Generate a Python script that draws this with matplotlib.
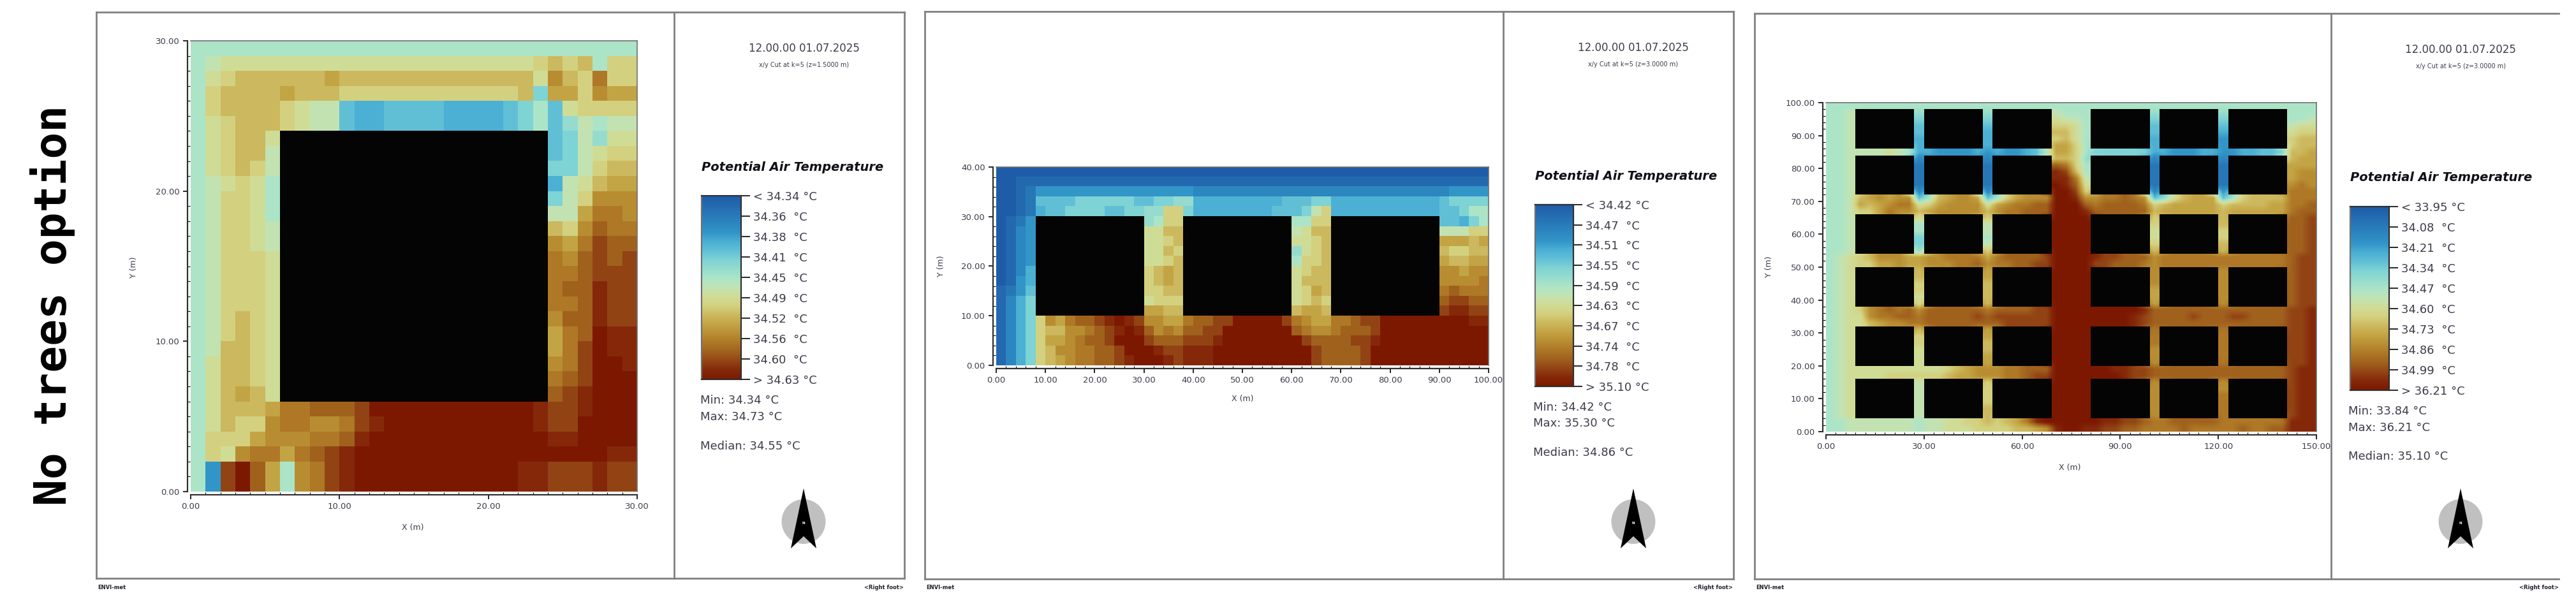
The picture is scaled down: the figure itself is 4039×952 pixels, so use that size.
import numpy as np
import matplotlib
matplotlib.use('Agg')
import matplotlib.pyplot as plt
from matplotlib.colors import LinearSegmentedColormap, ListedColormap
from matplotlib.patches import Ellipse, Polygon
from matplotlib.ticker import MultipleLocator, FormatStrFormatter

W, H = 4039, 952

# levels on the legend bar: 0 (top of bar, blue) to k=20 (bottom, dark red), # = building
grid_a = [
    "9999999999 9999999999 9999999999",
    "9abbbbbbbb bbbbbbbbbb bbbcdcd9cc",
    "9bcdddddde dddddddddd dddbfdcgcc",
    "9cddddeddd cccccccccc ccd7eecfee",
    "9cddddcbaa 6556666555 56796bcccc",
    "9bcdddcbaa 6556666555 56796 8a9aa",
    "9bcddb ################## 67a8bb",
    "9bcdda ################## 67abcc",
    "9bcdca ################## 77acdd",
    "9abcb9 ################## 5abdee",
    "9accb9 ################## 7acfff",
    "9accb9 ################## aaeggf",
    "9accba ################## dcfhgg",
    "9accba ################## fegihh",
    "9acccb ################## gfhihi",
    "9acccb ################## gghiii",
    "9acccb ################## ghhjii",
    "9acccb ################## gghjii",
    "9acdcb ################## fhhjii",
    "9acdcb ################## eghkjj",
    "9addcb ################## egikjj",
    "9bddcb ################## fgikkj",
    "9bddcb ################## ghikkk",
    "9bdedb ################## hijkkk",
    "9bdddegghh hikkkkkkkk kkkjiijkkk",
    "9bdccfggff gijkkkkkkk kkkjiikkkk",
    "9cccefffgg hjkkkkkkkk kkkkjjkkkk",
    "9cbfggeghi jkkkkkkkkk kkkkkkkkjj",
    "94ikhe9fgi jkkkkkkkkk kkjjiiijii",
    "94ikhe9fgi jkkkkkkkkk kkjjiiijii",
]
grid_b = [
    "0000000000 0000000000 0000000000 0000000000 0000000000",
    "0011111111 1111111111 1111111111 1111111111 1111111111",
    "0012444444 4444444444 3333333333 3333333333 3333334444",
    "0012 6666777777667788 555555555666 77 55555555555 67777",
    "0012 5667777667788cc7 555555556667 ac 55555555555 66799",
    "0124 ########### 89cc ########### 99cc ########### 66579",
    "0134 ########### bbdd ########### abdd ########### aaacc",
    "0134 ########### bbcd ########### bbcd ########### eeede",
    "0134 ########### bbdc ########### 8bcd ########### dccdd",
    "0134 ########### bbcd ########### 9ccd ########### eddee",
    "0135 ########### cded ########### bcdd ########### ffeff",
    "0145 ########### cded ########### bddd ########### ffffg",
    "1246 ########### ccdd ########### bced ########### ghggg",
    "1357 ########### bccc ########### bcdc ########### hiihh",
    "1357 ########### eedd ########### deed ########### ijjii",
    "1357cfeghh ijkjiffeeg hhiikkkkki gfeegghiik kkkkkkkkjj",
    "1357cddffg hijkjhfgfh hiikkkkkkk hgffghhhik kkkkkkkkkk",
    "1357ceefgh hikkkihhhi iijkkkkkkk kihhhhiijk kkkkkkkkkk",
    "1357cdffgg hhikkkjiij jjkkkkkkkk kkihhhhikk kkkkkkkkkk",
    "1357cdefgg hhijkkkjij jjkkkkkkkk kkihhhhikk kkkkkkkkkk",
]
grid_c = [
    "999 999999 9 999999 9 999999 9999 999999 9 999999 9 999999 999",
    "99a ###### 8 ###### 8 ###### a999 ###### 8 ###### 8 ###### 999",
    "99a ###### 7 ###### 7 ###### baa9 ###### 7 ###### 7 ###### 99a",
    "99a ###### 6 ###### 6 ###### ccb9 ###### 6 ###### 6 ###### abb",
    "99a ###### 6 ###### 5 ###### ddb9 ###### 6 ###### 5 ###### bcc",
    "99a ###### 5 ###### 5 ###### cdb9 ###### 5 ###### 4 ###### cdd",
    "99a ###### 5 ###### 5 ###### eec9 ###### 5 ###### 4 ###### cdd",
    "99a aaaba9 5 544445 4 544569 eec9 777777 5 544455 4 455667 dde",
    "99a ###### 3 ###### 3 ###### ddc8 ###### 3 ###### 3 ###### dee",
    "99a ###### 2 ###### 2 ###### hgc9 ###### 2 ###### 2 ###### eee",
    "99a ###### 2 ###### 2 ###### jid9 ###### 2 ###### 2 ###### eff",
    "99a ###### 2 ###### 2 ###### jjga ###### 2 ###### 2 ###### eff",
    "99a ###### 2 ###### 2 ###### kjhb ###### 2 ###### 2 ###### fgf",
    "99a ###### 3 ###### 3 ###### kkic ###### 3 ###### 4 ###### ggg",
    "99a defeff 6 9deffe 6 9cefff kkjf fgghgf 6 8bdeee 6 9cdddd ggg",
    "99a edefgg b ceffff b efgghh kkkh ghhhhg c deeeee c ddddee ggh",
    "99a ccegff d efffff d fgghhh kkkj hhhhhh d eeeeee d eeeeee ghh",
    "99a ###### b ###### c ###### kkkk ###### c ###### d ###### hhi",
    "99a ###### 9 ###### a ###### kkkk ###### c ###### d ###### hhi",
    "99a ###### 9 ###### a ###### kkkk ###### b ###### c ###### hhi",
    "99a ###### 7 ###### 9 ###### kkkk ###### b ###### c ###### hhi",
    "99a ###### 7 ###### a ###### kkkk ###### c ###### d ###### hhi",
    "99a ###### 8 ###### c ###### kkkk ###### d ###### d ###### hhi",
    "9ab cdfffe e ffgggg e ghhhhi kkkk jiihhh f gggggg g gggggg hii",
    "9ab cceefe e fffggh f gghhii kkkk iihhhg f gggggg g gggggg hii",
    "9ab ###### d ###### e ###### kkkk ###### f ###### f ###### hii",
    "9ab ###### d ###### e ###### kkkk ###### f ###### f ###### hii",
    "9ab ###### c ###### d ###### kkkk ###### f ###### f ###### hii",
    "9ab ###### c ###### d ###### kkkk ###### e ###### f ###### hii",
    "9ab ###### b ###### d ###### kkkk ###### e ###### f ###### hii",
    "9ab ###### b ###### d ###### kkkk ###### e ###### f ###### hii",
    "9ab cfghgh f hhhhhh g hhhhii kkkk kkkkkj h hhhhhh h hhhhhh iij",
    "9ab bfgghh g hhhhhi h iiiiii kkkk kkkkji h hhhihh h iihhhh iij",
    "9ab bdeffg g hhhhhh h hiiiii kkkk kkkkji h hhhhhh h hhhhhh iij",
    "9ab ###### d ###### e ###### kkkk ###### g ###### g ###### iij",
    "9ab ###### c ###### e ###### kkkk ###### g ###### g ###### iij",
    "9ab ###### c ###### d ###### kkkk ###### g ###### g ###### iij",
    "9ab ###### b ###### d ###### kkkk ###### f ###### g ###### iij",
    "9ab ###### b ###### e ###### kkkk ###### f ###### g ###### iij",
    "9ab ###### b ###### e ###### kkkk ###### f ###### g ###### iij",
    "9ab bbbbbb b bbcdef f fgghhh kkkk kkjjii h hhhhhh h hhhhhh ijj",
    "9ab bbbccc c ccdeef f fgghii kkkk kkkjii h hhhhhh h hhhhhh ijj",
    "9ab ###### a ###### c ###### kkkk ###### f ###### f ###### ijj",
    "9ab ###### a ###### c ###### kkkk ###### f ###### f ###### ijj",
    "9ab ###### a ###### c ###### kkkk ###### f ###### g ###### ijj",
    "9ab ###### a ###### c ###### kkkk ###### f ###### g ###### ijj",
    "9ab ###### a ###### d ###### kkkk ###### f ###### g ###### ijj",
    "9ab ###### a ###### d ###### kkkk ###### f ###### g ###### ijj",
    "99a aaaaaa 9 aabbcc d cdegjk kkkk kjjiih g ghhhhh g gggggg jjj",
    "99a aaaaaa 9 aabbbc c ccddef jkkj jiihhg g gghggg g ghgghh jjj",
]

legend_a = ["< 34.34 °C", "34.36  °C", "34.38  °C", "34.41  °C", "34.45  °C",
            "34.49  °C", "34.52  °C", "34.56  °C", "34.60  °C", "> 34.63 °C"]
legend_b = ["< 34.42 °C", "34.47  °C", "34.51  °C", "34.55  °C", "34.59  °C",
            "34.63  °C", "34.67  °C", "34.74  °C", "34.78  °C", "> 35.10 °C"]
legend_c = ["< 33.95 °C", "34.08  °C", "34.21  °C", "34.34  °C", "34.47  °C",
            "34.60  °C", "34.73  °C", "34.86  °C", "34.99  °C", "> 36.21 °C"]
stats_a = ["Min: 34.34 °C", "Max: 34.73 °C", "Median: 34.55 °C"]
stats_b = ["Min: 34.42 °C", "Max: 35.30 °C", "Median: 34.86 °C"]
stats_c = ["Min: 33.84 °C", "Max: 36.21 °C", "Median: 35.10 °C"]

# colours of the legend bar, read from top to bottom
bar_colors = ['#1f5ca8', '#2878b8', '#3295c8', '#4bb0d4', '#62c0d6', '#7fd4d4', '#ace5c8',
              '#c2e3b4', '#d0dc96', '#d3d17f', '#cdb95f', '#c4a546', '#b98f33', '#ae7827',
              '#a1621e', '#934515', '#85290a', '#7d1800']
bar_pos = [0, .1, .2, .25, .3, .35, .45, .5, .55, .6, .65, .7, .75, .8, .85, .9, .95, 1]
cmap = LinearSegmentedColormap.from_list('envi', list(zip(bar_pos, bar_colors)))

TXT = '#3c3c4c'
LINE = '#808080'


def parse(rows):
    out = []
    for r in rows:
        r = r.replace(' ', '')
        out.append([np.nan if c == '#' else int(c, 21) for c in r])
    return np.array(out, dtype=float)


def fill_under_buildings(arr):
    # only so the smoothing has something to work with, the buildings cover it again
    arr = arr.copy()
    while np.isnan(arr).any():
        p = np.pad(arr, 1, constant_values=np.nan)
        near = np.stack([p[:-2, 1:-1], p[2:, 1:-1], p[1:-1, :-2], p[1:-1, 2:]])
        ok = ~np.isnan(near)
        total = np.where(ok, near, 0).sum(axis=0)
        count = ok.sum(axis=0)
        todo = np.isnan(arr) & (count > 0)
        arr[todo] = total[todo] / count[todo]
    return arr


def px_axes(fig, x0, y0, x1, y1):
    return fig.add_axes([x0 / W, 1 - y1 / H, (x1 - x0) / W, (y1 - y0) / H])


def draw_map(fig, box, grid, xmax, ymax, xstep, ystep, xminor, yminor, xlab, ylab, smooth=False):
    ax = px_axes(fig, *box)
    arr = parse(grid)
    ext = [0, xmax, 0, ymax]
    ax.imshow(fill_under_buildings(arr), cmap=cmap, vmin=0, vmax=20, extent=ext, aspect='auto',
              interpolation='bilinear' if smooth else 'nearest', origin='upper')
    ax.imshow(np.ma.masked_where(~np.isnan(arr), np.ones(arr.shape)), cmap=ListedColormap(['#040404']),
              extent=ext, aspect='auto', interpolation='nearest', origin='upper')
    ax.set_xlim(0, xmax)
    ax.set_ylim(0, ymax)
    ax.xaxis.set_major_locator(MultipleLocator(xstep))
    ax.yaxis.set_major_locator(MultipleLocator(ystep))
    ax.xaxis.set_minor_locator(MultipleLocator(xminor))
    ax.yaxis.set_minor_locator(MultipleLocator(yminor))
    ax.xaxis.set_major_formatter(FormatStrFormatter('%.2f'))
    ax.yaxis.set_major_formatter(FormatStrFormatter('%.2f'))
    ax.tick_params(which='major', length=5, width=1.2, labelsize=9.5, labelcolor=TXT, pad=4)
    ax.tick_params(which='minor', length=3, width=0.8, direction='in')
    for s in ['left', 'bottom']:
        ax.spines[s].set_position(('outward', 3.6))
        ax.spines[s].set_linewidth(1.6)
        ax.spines[s].set_color('#303030')
    for s in ['top', 'right']:
        ax.spines[s].set_color('#707070')
        ax.spines[s].set_linewidth(1.2)
    bg.text(xlab[0], xlab[1], 'X (m)', fontsize=9, color=TXT, ha='center', va='center')
    bg.text(ylab[0], ylab[1], 'Y (m)', fontsize=9, color=TXT, ha='center', va='center', rotation=90)
    return ax


def draw_legend(fig, x, y_title, bar, labels, stats, stat_y, stat_x, date_x, date_y, sub, north_x):
    bg.text(x, y_title, 'Potential Air Temperature', fontsize=14, fontweight='bold',
            fontstyle='italic', color='#101018', ha='left', va='center')
    cax = px_axes(fig, *bar)
    grad = np.linspace(0, 1, 256).reshape(-1, 1)
    cax.imshow(grad, cmap=cmap, aspect='auto', extent=[0, 1, 0, 9], origin='upper')
    cax.set_xticks([])
    cax.yaxis.tick_right()
    cax.set_yticks(range(10))
    cax.set_yticklabels(labels[::-1])
    cax.tick_params(length=10, width=1.2, labelsize=13, labelcolor=TXT, pad=4)
    for s in cax.spines.values():
        s.set_linewidth(1.6)
        s.set_color('#303030')
    cax.spines['left'].set_color('#707070')
    for t, yy in zip(stats, stat_y):
        bg.text(stat_x, yy, t, fontsize=13, color=TXT, ha='left', va='center')
    bg.text(date_x, date_y, '12.00.00 01.07.2025', fontsize=12, color=TXT, ha='center', va='center')
    bg.text(date_x, date_y + 26, sub, fontsize=7, color=TXT, ha='center', va='center')
    bg.add_patch(Ellipse((north_x, 818), 69, 70, color='#c0c0c0', lw=0))
    bg.add_patch(Polygon([(north_x, 766), (north_x + 20, 860), (north_x, 841), (north_x - 20, 860)],
                         color='black', lw=0))
    bg.text(north_x, 821, 'N', fontsize=4, color='white', fontweight='bold', ha='center', va='center')


def draw_frame(left, top, bottom, divider, right, foot_right, closed=True):
    xs = [left, right] if closed else [left, foot_right]
    bg.plot(xs, [top, top], color=LINE, lw=2)
    bg.plot(xs, [bottom, bottom], color=LINE, lw=2)
    bg.plot([left, left], [top, bottom], color=LINE, lw=2)
    bg.plot([divider, divider], [top, bottom], color=LINE, lw=2)
    if closed:
        bg.plot([right, right], [top, bottom], color=LINE, lw=2)
    bg.text(left + 2, 921, 'ENVI-met', fontsize=6, fontweight='bold', color='#202030', ha='left', va='center')
    bg.text(foot_right, 921, '<Right foot>', fontsize=6, fontweight='bold', color='#202030', ha='right', va='center')


fig = plt.figure(figsize=(W / 100, H / 100), dpi=100, facecolor='white')
bg = fig.add_axes([0, 0, 1, 1])
bg.set_xlim(0, W)
bg.set_ylim(H, 0)
bg.axis('off')

bg.text(104, 479, 'No trees option', rotation=90, rotation_mode='anchor', fontsize=50, fontweight='bold',
        family='DejaVu Sans Mono', color='black', ha='center', va='baseline')

draw_frame(151, 19, 907, 1057, 1418, 1417)
draw_map(fig, (299, 64, 999, 771), grid_a, 30, 30, 10, 10, 1, 1, (647, 827), (210, 419))
draw_legend(fig, 1100, 262, (1100, 307, 1162, 595), legend_a, stats_a, [628, 654, 700], 1098,
            1261, 76, 'x/y Cut at k=5 (z=1.5000 m)', 1260)

draw_frame(1450, 18, 908, 2357, 2718, 2717)
draw_map(fig, (1562, 262, 2334, 573), grid_b, 100, 40, 10, 10, 2, 2, (1948, 626), (1475, 417))
draw_legend(fig, 2407, 276, (2407, 321, 2467, 606), legend_b, stats_b, [639, 664, 710], 2404,
            2561, 75, 'x/y Cut at k=5 (z=3.0000 m)', 2561)

draw_frame(2751, 21, 908, 3655, 4013, 4012, closed=False)
draw_map(fig, (2863, 161, 3632, 677), grid_c, 150, 100, 30, 10, 3, 2, (3245, 734), (2774, 418), smooth=True)
draw_legend(fig, 3685, 279, (3685, 324, 3746, 612), legend_c, stats_c, [645, 671, 716], 3682,
            3858, 78, 'x/y Cut at k=5 (z=3.0000 m)', 3858)

fig.savefig('out.png', dpi=100)
